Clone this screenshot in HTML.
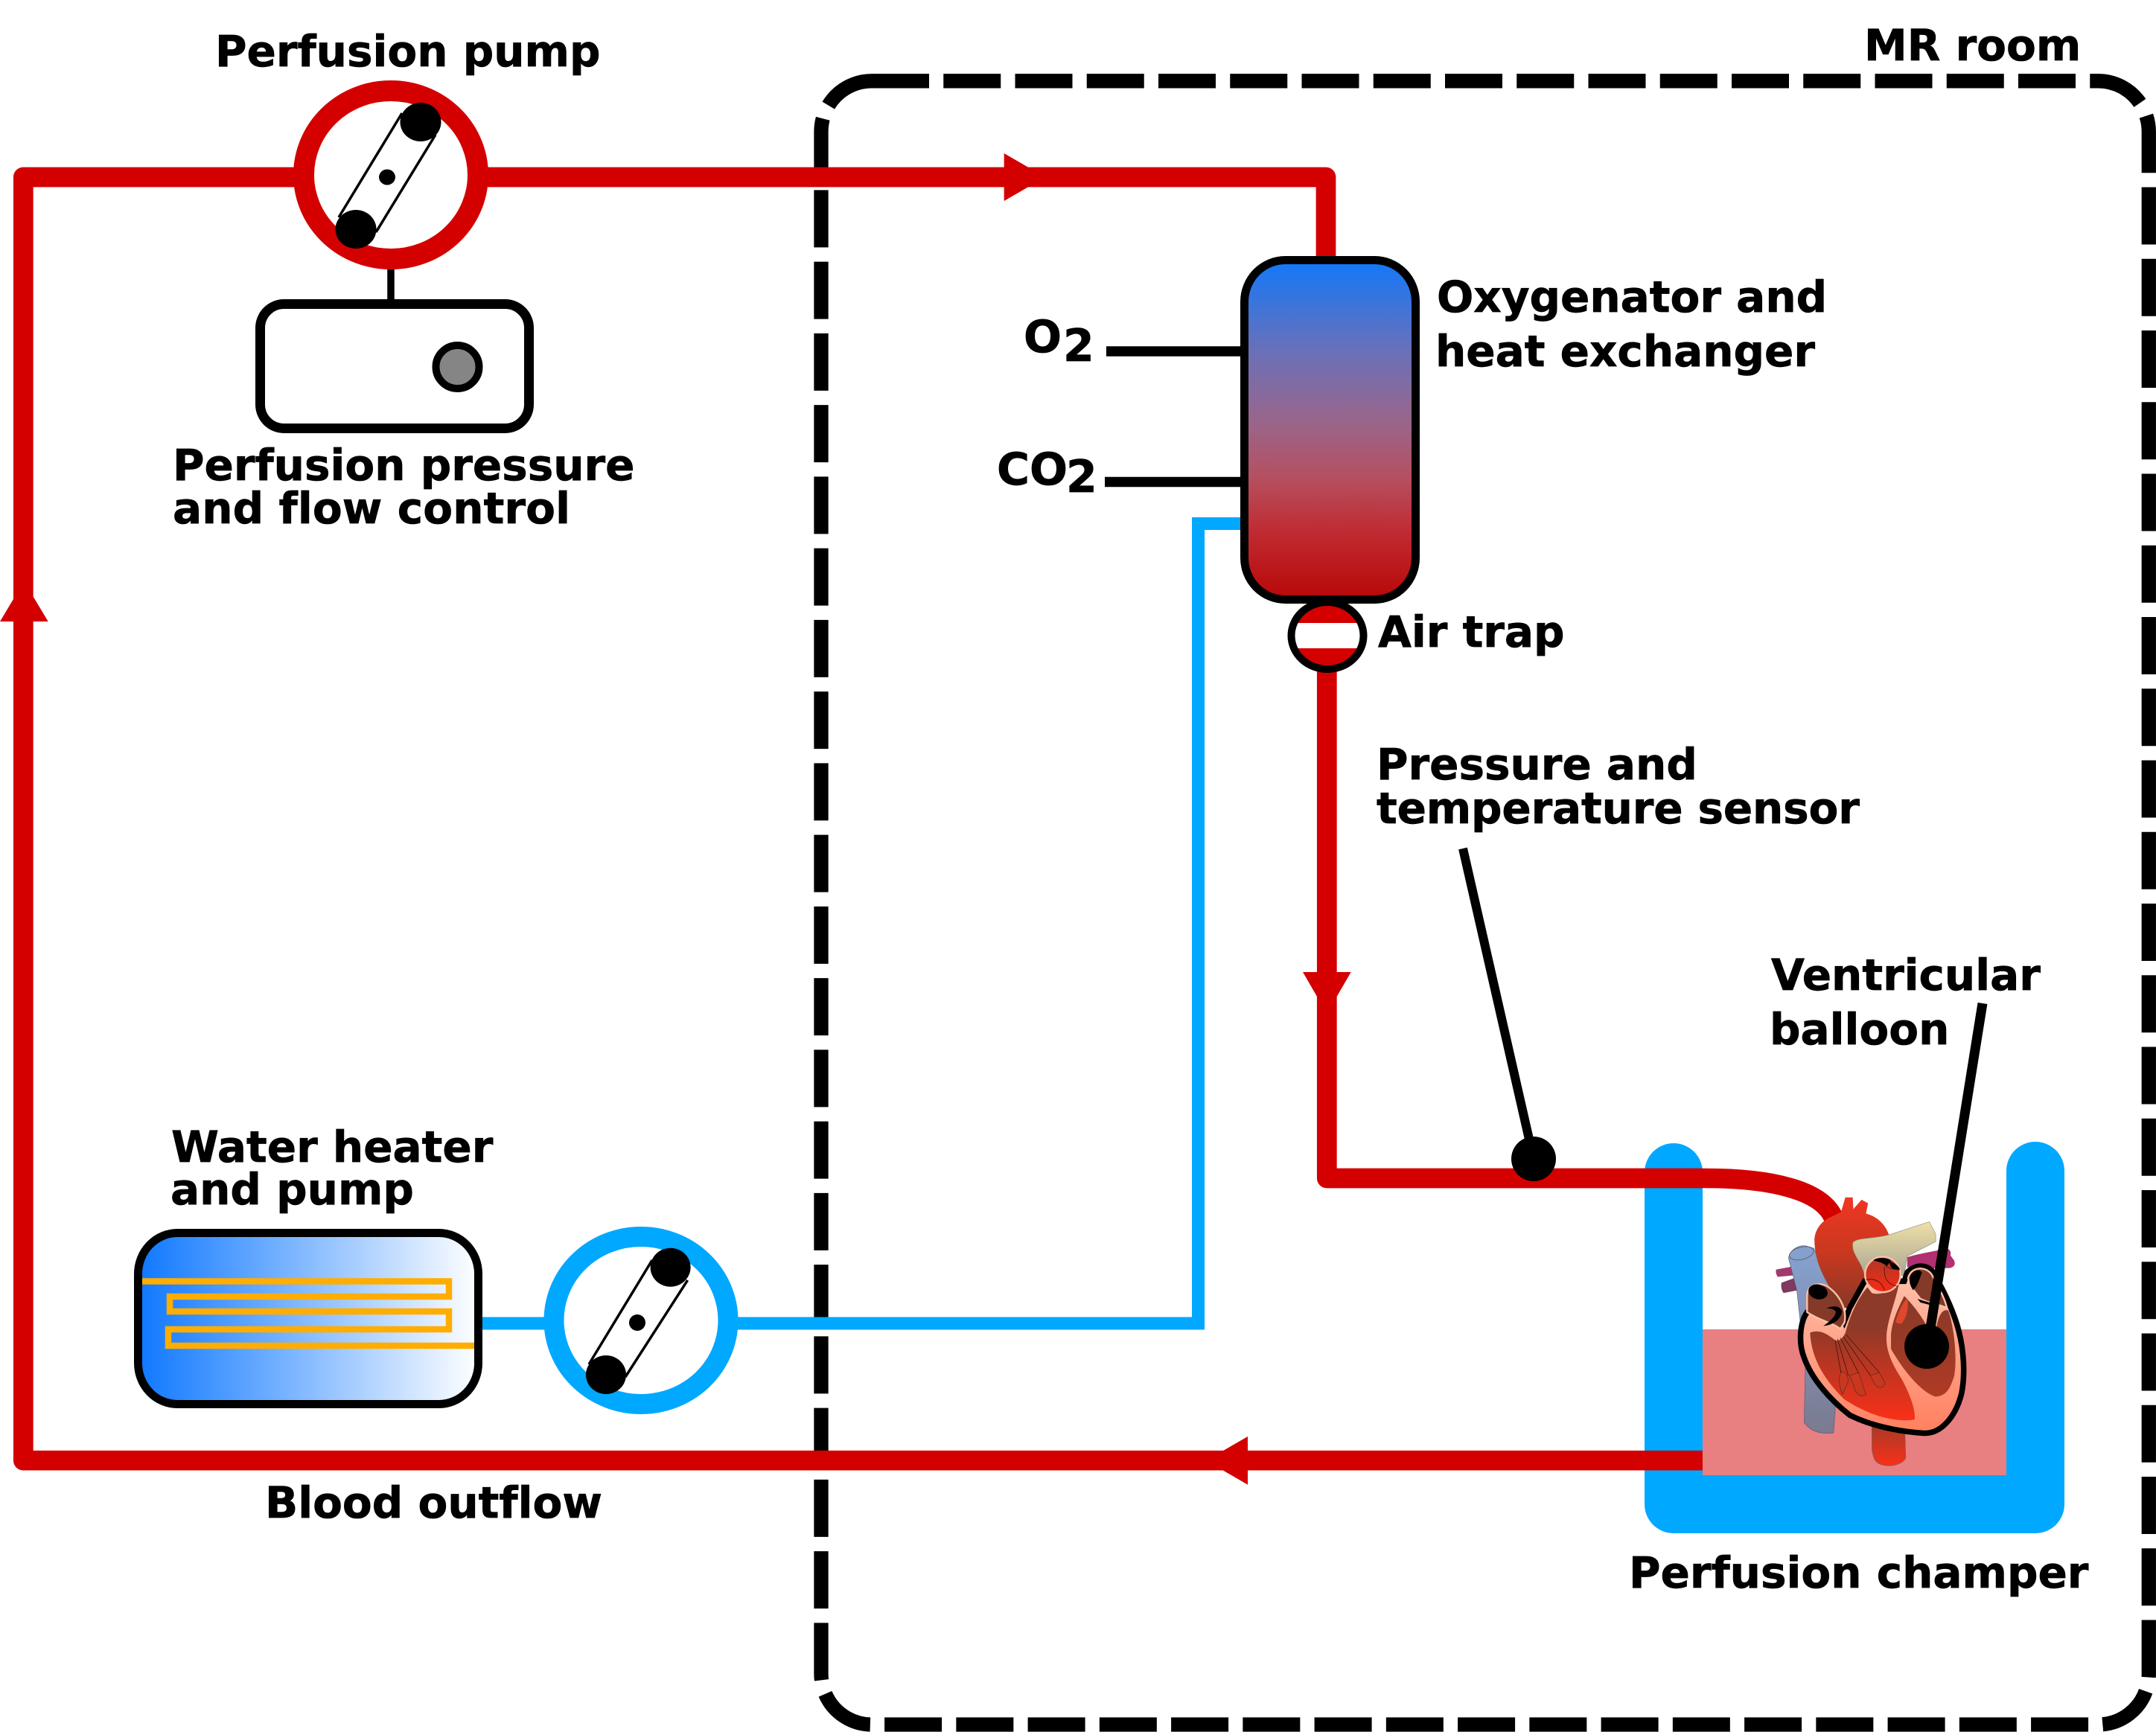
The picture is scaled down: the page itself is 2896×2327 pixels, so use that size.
<!DOCTYPE html>
<html lang="en">
<head>
<meta charset="utf-8">
<title>Perfusion circuit diagram</title>
<style>
html,body{margin:0;padding:0;background:#fff;}
svg{display:block;}
text{font-family:"DejaVu Sans","Liberation Sans",sans-serif;font-weight:bold;font-size:58px;fill:#000;stroke:#000;stroke-width:.7px;font-variant-ligatures:none;font-feature-settings:"liga" 0,"clig" 0;}
</style>
</head>
<body>
<svg xmlns="http://www.w3.org/2000/svg" width="2896" height="2327" viewBox="0 0 2896 2327">
<defs>
<linearGradient id="oxy" x1="0" y1="0" x2="0" y2="1"><stop offset="0" stop-color="#1278fa"/><stop offset=".27" stop-color="#6a70b8"/><stop offset=".47" stop-color="#98668c"/><stop offset=".64" stop-color="#b55060"/><stop offset=".8" stop-color="#c02b32"/><stop offset="1" stop-color="#b80808"/></linearGradient>
<linearGradient id="heat" x1="0" y1="0" x2="1" y2="0"><stop offset="0" stop-color="#0f78ff"/><stop offset="1" stop-color="#ffffff"/></linearGradient>
<linearGradient id="vc" x1="0" y1="0" x2="0" y2="1"><stop offset="0" stop-color="#86a2d2"/><stop offset="1" stop-color="#7b7a90"/></linearGradient>
<linearGradient id="ao" x1="0" y1="0" x2="0" y2="1"><stop offset="0" stop-color="#f03622"/><stop offset=".5" stop-color="#c8381f"/><stop offset="1" stop-color="#85382a"/></linearGradient>
<linearGradient id="ao2" x1="0" y1="0" x2="0" y2="1"><stop offset="0" stop-color="#a83a26"/><stop offset="1" stop-color="#f8301a"/></linearGradient>
<linearGradient id="pa" x1="0" y1="0" x2="0" y2="1"><stop offset="0" stop-color="#eee0a8"/><stop offset="1" stop-color="#aca692"/></linearGradient>
<linearGradient id="wall" x1="0" y1="0" x2="0" y2="1"><stop offset="0" stop-color="#ffc4ae"/><stop offset="1" stop-color="#ff8060"/></linearGradient>
<linearGradient id="rv" x1="0" y1="0" x2="0" y2="1"><stop offset="0" stop-color="#8e3a28"/><stop offset=".35" stop-color="#8e3a28"/><stop offset="1" stop-color="#fa3018"/></linearGradient>
<linearGradient id="lv" x1="0" y1="0" x2="0" y2="1"><stop offset="0" stop-color="#853a28"/><stop offset="1" stop-color="#b03a25"/></linearGradient>
<linearGradient id="valve" x1="0" y1="0" x2="0" y2="1"><stop offset="0" stop-color="#a83a26"/><stop offset="1" stop-color="#fa2a14"/></linearGradient>
<clipPath id="trapclip"><ellipse cx="1783" cy="854" rx="48.5" ry="45"/></clipPath>
</defs>

<!-- MR room -->
<rect x="1103" y="108.8" width="1783.3" height="2208.2" rx="68" ry="68" fill="none" stroke="#000" stroke-width="19.3" stroke-dasharray="77 19.25"/>

<!-- Perfusion chamber -->
<rect x="2287" y="1786" width="408" height="196" fill="#e88082"/>
<path d="M2248 1575V2021H2734V1573" fill="none" stroke="#00a8ff" stroke-width="78" stroke-linecap="round" stroke-linejoin="round"/>

<!-- Water circuit -->
<path d="M648 1778H740M985 1778H1609.5V703.5H1670" fill="none" stroke="#00a8ff" stroke-width="17"/>

<!-- Blood circuit -->
<path d="M2287 1962.2H31.3V238H402" fill="none" stroke="#d40000" stroke-width="26.7" stroke-linejoin="round"/>
<path d="M648 238H1781V350" fill="none" stroke="#d40000" stroke-width="26.7" stroke-linejoin="round"/>
<path d="M1782.3 895V1583H2287" fill="none" stroke="#d40000" stroke-width="26.7" stroke-linejoin="round"/>
<polygon points="0,835 64.7,835 32.3,781" fill="#d40000"/>
<polygon points="1348.7,206 1348.7,270 1404,238" fill="#d40000"/>
<polygon points="1750,1306 1814.7,1306 1782.3,1362" fill="#d40000"/>
<polygon points="1676,1930 1676,1994.7 1620,1962.3" fill="#d40000"/>

<!-- Perfusion pump -->
<line x1="525" y1="355" x2="525" y2="410" stroke="#000" stroke-width="9.5"/>
<ellipse cx="525" cy="235" rx="117" ry="113" fill="#fff" stroke="#d40000" stroke-width="28"/>
<line x1="540" y1="152" x2="455" y2="292" stroke="#000" stroke-width="3.5"/>
<line x1="585" y1="181" x2="505" y2="312" stroke="#000" stroke-width="3.5"/>
<ellipse cx="565" cy="164" rx="27.5" ry="26"/>
<ellipse cx="478" cy="308" rx="27.5" ry="26"/>
<ellipse cx="520" cy="238" rx="11" ry="10.5"/>

<!-- Control box -->
<rect x="349.5" y="408.5" width="361" height="167" rx="32" ry="32" fill="#fff" stroke="#000" stroke-width="13"/>
<ellipse cx="614.5" cy="493" rx="29" ry="29" fill="#858585" stroke="#000" stroke-width="10"/>

<!-- Air trap -->
<ellipse cx="1783" cy="854" rx="48.5" ry="45" fill="#d40000"/>
<rect x="1725" y="837" width="116" height="34" fill="#fff" clip-path="url(#trapclip)"/>
<ellipse cx="1783" cy="854" rx="48.5" ry="45" fill="none" stroke="#000" stroke-width="10"/>

<!-- Oxygenator -->
<line x1="1486" y1="472" x2="1672" y2="472" stroke="#000" stroke-width="13.5"/>
<line x1="1484" y1="647.5" x2="1672" y2="647.5" stroke="#000" stroke-width="13.5"/>
<rect x="1671.5" y="349.5" width="230" height="456" rx="55" ry="56" fill="url(#oxy)" stroke="#000" stroke-width="11"/>

<!-- Water heater -->
<rect x="185.5" y="1656.5" width="457" height="230" rx="53" ry="55" fill="url(#heat)" stroke="#000" stroke-width="11"/>
<path d="M191 1721.5H603V1742H228V1762H603V1786H226V1808H637" fill="none" stroke="#ffad00" stroke-width="8.5"/>

<!-- Water pump -->
<ellipse cx="861" cy="1774" rx="117" ry="112.5" fill="#fff" stroke="#00a8ff" stroke-width="27"/>
<line x1="876" y1="1693" x2="791" y2="1833" stroke="#000" stroke-width="3.5"/>
<line x1="923.6" y1="1720" x2="840" y2="1850" stroke="#000" stroke-width="3.5"/>
<ellipse cx="900.6" cy="1702.7" rx="27" ry="26"/>
<ellipse cx="814" cy="1847" rx="27" ry="26"/>
<ellipse cx="856" cy="1777" rx="11" ry="11"/>

<!-- Heart -->
<g transform="translate(2200,1500) scale(.3954)">
<path d="M215 210C450 208 625 250 665 345" fill="none" stroke="#d40000" stroke-width="67"/>
<path d="M470 520L525 510L530 540L475 545Q466 530 470 520Z" fill="#a2386f"/>
<path d="M488 565L535 548L545 590L495 600Q484 585 488 565Z" fill="#7f3a60"/>
<path d="M915 478C960 465 1000 460 1050 448Q1066 455 1062 472L1075 490Q1082 510 1060 515L960 517L915 512Z" fill="#b03070"/>
<path d="M512 482C515 455 545 435 572 440L598 448L650 580L590 720L570 800L565 1040C590 1075 630 1080 665 1075L672 970L600 850L552 700L540 590Z" fill="url(#vc)" stroke="#556" stroke-width="1.5"/>
<ellipse cx="556" cy="465" rx="42" ry="21" transform="rotate(-14 556 465)" fill="#85a0cc" stroke="#556" stroke-width="2"/>
<path d="M795 1050L795 1130C800 1170 810 1185 850 1187C880 1187 905 1175 910 1160L907 1060Z" fill="url(#ao2)" stroke="#666" stroke-width="1.5"/>
<path d="M600 420C600 390 620 355 660 340L690 325L705 275L730 275L732 315L760 283L782 295L775 330C815 340 845 370 855 410L910 500L760 660L700 650C640 570 600 500 600 420Z" fill="url(#ao)"/>
<path d="M730 430C740 410 800 418 860 400L990 358L1012 400L1012 425L915 475L905 540L770 540C760 490 725 470 730 430Z" fill="url(#pa)" stroke="#8a8468" stroke-width="1.5"/>
<!-- wall -->
<path d="M575 665C550 700 545 770 565 820C590 890 650 960 720 1015C790 1050 880 1070 970 1076C1030 1080 1080 1020 1100 940C1115 860 1105 760 1075 680C1050 610 1020 560 1000 525C975 500 940 505 915 530L905 560L770 560L720 650L700 700L660 640Z" fill="url(#wall)" stroke="#000" stroke-width="19"/>
<!-- right atrium -->
<path d="M575 610C575 580 600 560 640 575C680 600 712 650 702 700L688 722C660 700 620 695 575 665Z" fill="#843a28" stroke="#ffc0a8" stroke-width="6"/>
<ellipse cx="612" cy="596" rx="33" ry="25" transform="rotate(15 612 596)"/>
<path d="M640 652C665 640 690 645 694 662C690 690 665 708 630 712C655 695 675 675 672 662C665 655 655 652 640 652Z"/>
<!-- right ventricle + septal outflow -->
<path d="M585 735C620 720 650 745 670 760C680 765 695 758 705 735C720 680 745 620 780 580L795 600C830 610 870 590 890 550C880 620 850 680 845 740C840 800 870 850 895 890C925 945 945 1000 940 1030C880 1040 790 1020 700 960C640 900 590 830 585 735Z" fill="url(#rv)"/>
<path d="M690 870C700 860 715 880 715 900L695 945C685 920 680 890 690 870ZM720 880L750 870L775 945C760 955 740 945 735 920ZM790 880L820 870L840 905C835 925 815 925 805 910Z" fill="#c8381f" stroke="#6a2a1c" stroke-width="2"/>
<path d="M670 760L690 870M678 756L715 880M688 752L750 872M698 748L790 880M708 742L820 870" fill="none" stroke="#3a1410" stroke-width="2"/>
<!-- left atrium -->
<path d="M918 550C925 510 980 505 1000 540C1020 580 1040 610 1050 650L1020 640L985 630L960 620C945 600 925 580 918 550Z" fill="#843a28" stroke="#ffc0a8" stroke-width="6"/>
<path d="M925 545C930 525 955 515 965 530C955 560 945 585 935 590C925 575 920 560 925 545Z"/>
<path d="M950 620L1000 635L990 640L960 632Z"/>
<!-- left ventricle -->
<path d="M860 740C865 690 885 650 905 610C935 640 965 680 980 710L1015 715C1020 680 1035 650 1055 660C1075 720 1085 820 1075 880C1060 930 1045 950 1010 952C960 935 900 860 860 790Z" fill="url(#lv)"/>
<path d="M875 700C885 665 900 630 915 618C922 650 912 685 895 705Z" fill="#e0482e"/>
<!-- valve -->
<circle cx="832" cy="537" r="60" fill="url(#valve)" stroke="#ffc0a8" stroke-width="6"/>
<path d="M800 488C815 478 845 478 860 490L845 510C835 495 815 495 800 488ZM855 492C875 500 888 510 890 520L870 520C860 515 855 505 855 492Z"/>
<path d="M775 555C800 550 825 555 838 590M838 510C835 540 840 570 885 578M845 510C860 520 880 520 890 522" fill="none" stroke="#3a1410" stroke-width="2"/>
</g>

<!-- Sensors -->
<line x1="1965" y1="1140" x2="2060" y2="1557" stroke="#000" stroke-width="12"/>
<circle cx="2060" cy="1557" r="30"/>
<line x1="2663" y1="1348" x2="2589" y2="1809" stroke="#000" stroke-width="13"/>
<circle cx="2588" cy="1809" r="30"/>

<!-- Labels -->
<text x="289" y="89">Perfusion pump</text>
<text x="232" y="645">Perfusion pressure</text>
<text x="232" y="703" style="letter-spacing:.1px">and flow control</text>
<text x="2504" y="81">MR room</text>
<text x="1930" y="419">Oxygenator and</text>
<text x="1928" y="492">heat exchanger</text>
<text x="1851" y="869">Air trap</text>
<text x="1375" y="473" style="font-size:60px">O</text><text x="1428" y="485" style="font-size:60px">2</text>
<text x="1339" y="651" style="font-size:60px">CO</text><text x="1432" y="661" style="font-size:60px">2</text>
<text x="1849" y="1047">Pressure and</text>
<text x="1849" y="1106" style="letter-spacing:-.15px">temperature sensor</text>
<text x="2379" y="1330">Ventricular</text>
<text x="2377" y="1403">balloon</text>
<text x="230" y="1561">Water heater</text>
<text x="229" y="1618">and pump</text>
<text x="356" y="2039">Blood outflow</text>
<text x="2188" y="2133">Perfusion champer</text>
</svg>
</body>
</html>
